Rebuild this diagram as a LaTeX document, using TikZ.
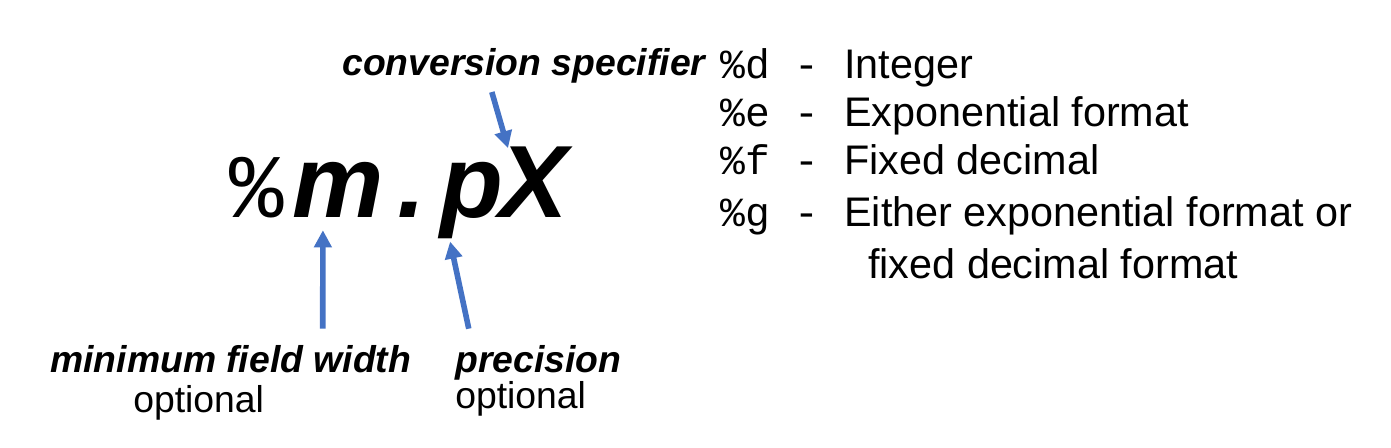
\documentclass[tikz,border=0pt]{standalone}
\usepackage{fontspec}
\setmainfont{Liberation Sans}
\setmonofont{Liberation Mono}
\usetikzlibrary{arrows.meta}
\definecolor{ptrblue}{HTML}{4472C4}

\begin{document}
\begin{tikzpicture}[x=0.75pt, y=-0.75pt,
    every node/.style={inner sep=0pt, anchor=base west},
    term/.style={font=\fontsize{28}{34}\selectfont\bfseries\itshape},
    note/.style={font=\fontsize{28}{34}\selectfont},
    item/.style={font=\fontsize{31}{37}\selectfont},
    big/.style={font=\fontsize{77}{90}\selectfont\bfseries\itshape},
    ptr/.style={-{Triangle[length=12.75pt, width=12.75pt]}, line width=4.2pt, draw=ptrblue}]

    \useasboundingbox (0,0) rectangle (1391,447);

    % ---------------------------------------------------------
    % THE FORMAT STRING
    % ---------------------------------------------------------
    \node[font=\fontsize{68}{80}\selectfont\ttfamily] (fmtpct) at (229,217) {\%};
    \node[big] (fmtm) at (292,217) {m};
    \node[big] (fmtdot) at (397,217) {.};
    \node[big] (fmtp) at (440,217) {p};
    \node[big] (fmtx) at (499,217) {X};

    % ---------------------------------------------------------
    % LABELS
    % ---------------------------------------------------------
    \node[term] (spec) at (342,75) {conversion specifier};
    \node[term] (width) at (50,372) {minimum field width};
    \node[note] (widthopt) at (133,412) {optional};
    \node[term] (prec) at (455,372) {precision};
    \node[note] (precopt) at (455,408) {optional};

    % ---------------------------------------------------------
    % CONVERSION LIST
    % ---------------------------------------------------------
    \node[item] (rowd) at (720,78) {\texttt{\%d - }Integer};
    \node[item] (rowe) at (720,126) {\texttt{\%e - }Exponential format};
    \node[item] (rowf) at (720,174) {\texttt{\%f - }Fixed decimal};
    \node[item] (rowg) at (720,226) {\texttt{\%g - }Either exponential format or};
    \node[item] (rowgb) at (868,278) {fixed decimal format};

    % ---------------------------------------------------------
    % POINTERS
    % ---------------------------------------------------------
    \draw[ptr] ([shift={(-32,9)}]spec.south) -- ([shift={(9,2)}]fmtx.north west);
    \draw[ptr] ([shift={(92,-16)}]width.north) -- ([shift={(-15,13)}]fmtm.south);
    \draw[ptr] ([shift={(-69.5,-16)}]prec.north) -- ([shift={(-21.5,3)}]fmtp.south);

\end{tikzpicture}
\end{document}
